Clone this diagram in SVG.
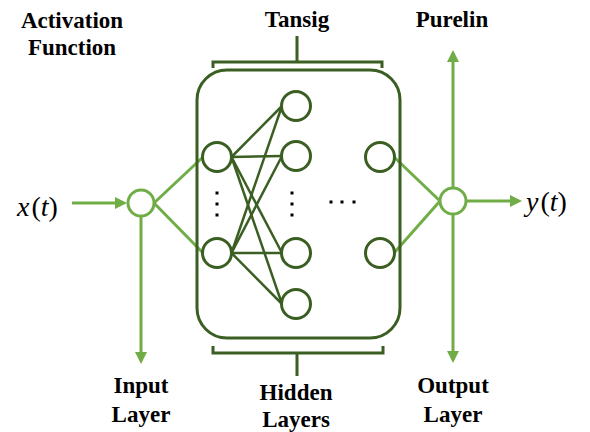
<svg xmlns="http://www.w3.org/2000/svg" width="590" height="432" viewBox="0 0 590 432">
<defs>
<marker id="arr" viewBox="0 0 10 10" markerUnits="userSpaceOnUse" markerWidth="12" markerHeight="12" refX="7" refY="5" orient="auto">
<path d="M0,0 L10,5 L0,10 z" fill="#70AD47"/>
</marker>
</defs>
<rect width="590" height="432" fill="#fff"/>

<g id="connectors">
<g id="io-links" stroke="#70AD47" stroke-width="3" fill="none">
<line x1="72" y1="203" x2="123.4" y2="203" marker-end="url(#arr)"/>
<line x1="141" y1="216" x2="141" y2="360.4" marker-end="url(#arr)"/>
<line x1="154" y1="203" x2="203" y2="157"/>
<line x1="154" y1="203" x2="203" y2="253"/>
<line x1="394" y1="157" x2="440" y2="201"/>
<line x1="394" y1="253" x2="440" y2="201"/>
<line x1="453" y1="188" x2="453" y2="53.6" marker-end="url(#arr)"/>
<line x1="453" y1="214" x2="453" y2="359.4" marker-end="url(#arr)"/>
<line x1="466" y1="201" x2="518.4" y2="201" marker-end="url(#arr)"/>
</g>
<g id="hidden-edges" stroke="#3B5E23" stroke-width="2.5" fill="none">
<line x1="231.5" y1="157" x2="282" y2="106"/>
<line x1="231.5" y1="157" x2="282" y2="156"/>
<line x1="231.5" y1="157" x2="282" y2="253"/>
<line x1="231.5" y1="157" x2="282" y2="304"/>
<line x1="231.5" y1="253" x2="282" y2="106"/>
<line x1="231.5" y1="253" x2="282" y2="156"/>
<line x1="231.5" y1="253" x2="282" y2="253"/>
<line x1="231.5" y1="253" x2="282" y2="304"/>
</g>
</g>

<g id="hidden-box">
<rect x="197" y="70" width="203" height="268" rx="30" ry="30" fill="none" stroke="#3B5E23" stroke-width="3"/>
</g>

<g id="brace-top">
<path d="M213,68 V62 H382 V68 M297,62 V36" fill="none" stroke="#3B5E23" stroke-width="3"/>
</g>
<g id="brace-bottom">
<path d="M213,346 V353 H383 V346 M297,353 V376" fill="none" stroke="#3B5E23" stroke-width="3"/>
</g>

<g stroke="#70AD47" stroke-width="3" fill="#fff">
<g id="input-node"><circle cx="141" cy="203" r="13"/></g>
<g id="output-node"><circle cx="453" cy="201" r="13"/></g>
</g>

<g stroke="#3B5E23" stroke-width="3" fill="#fff">
<g id="h1-1"><circle cx="217" cy="157" r="14.5"/></g>
<g id="h1-2"><circle cx="217" cy="253" r="14.5"/></g>
<g id="h2-1"><circle cx="296" cy="106" r="14.5"/></g>
<g id="h2-2"><circle cx="296" cy="156" r="14.5"/></g>
<g id="h2-3"><circle cx="296" cy="253" r="14.5"/></g>
<g id="h2-4"><circle cx="296" cy="304" r="14.5"/></g>
<g id="hn-1"><circle cx="380" cy="157" r="14.5"/></g>
<g id="hn-2"><circle cx="380" cy="253" r="14.5"/></g>
</g>

<g id="ellipses" fill="#000">
<rect x="215.5" y="191.5" width="3" height="3"/>
<rect x="215.5" y="202.5" width="3" height="3"/>
<rect x="215.5" y="213.5" width="3" height="3"/>
<rect x="290.5" y="191.5" width="3" height="3"/>
<rect x="290.5" y="202.5" width="3" height="3"/>
<rect x="290.5" y="213.5" width="3" height="3"/>
<rect x="329.5" y="200.5" width="3" height="3"/>
<rect x="340.5" y="200.5" width="3" height="3"/>
<rect x="352.5" y="200.5" width="3" height="3"/>
</g>

<text font-family="serif" font-weight="bold" font-size="23" text-anchor="middle" x="72" y="28">Activation</text>
<text font-family="serif" font-weight="bold" font-size="23" text-anchor="middle" x="72" y="55">Function</text>
<text font-family="serif" font-weight="bold" font-size="23" text-anchor="middle" x="297" y="27">Tansig</text>
<text font-family="serif" font-weight="bold" font-size="23" text-anchor="middle" x="452" y="27">Purelin</text>
<text font-family="serif" font-weight="bold" font-size="23" text-anchor="middle" x="141" y="393">Input</text>
<text font-family="serif" font-weight="bold" font-size="23" text-anchor="middle" x="141" y="422">Layer</text>
<text font-family="serif" font-weight="bold" font-size="23" text-anchor="middle" x="296" y="400">Hidden</text>
<text font-family="serif" font-weight="bold" font-size="23" text-anchor="middle" x="296" y="427">Layers</text>
<text font-family="serif" font-weight="bold" font-size="23" text-anchor="middle" x="453" y="393">Output</text>
<text font-family="serif" font-weight="bold" font-size="23" text-anchor="middle" x="453" y="422">Layer</text>
<text font-family="serif" font-size="28" x="17" y="216"><tspan font-style="italic">x</tspan><tspan dx="2">(</tspan><tspan font-style="italic">t</tspan>)</text>
<text font-family="serif" font-size="28" x="526" y="211"><tspan font-style="italic">y</tspan><tspan dx="2">(</tspan><tspan font-style="italic">t</tspan>)</text>
</svg>
